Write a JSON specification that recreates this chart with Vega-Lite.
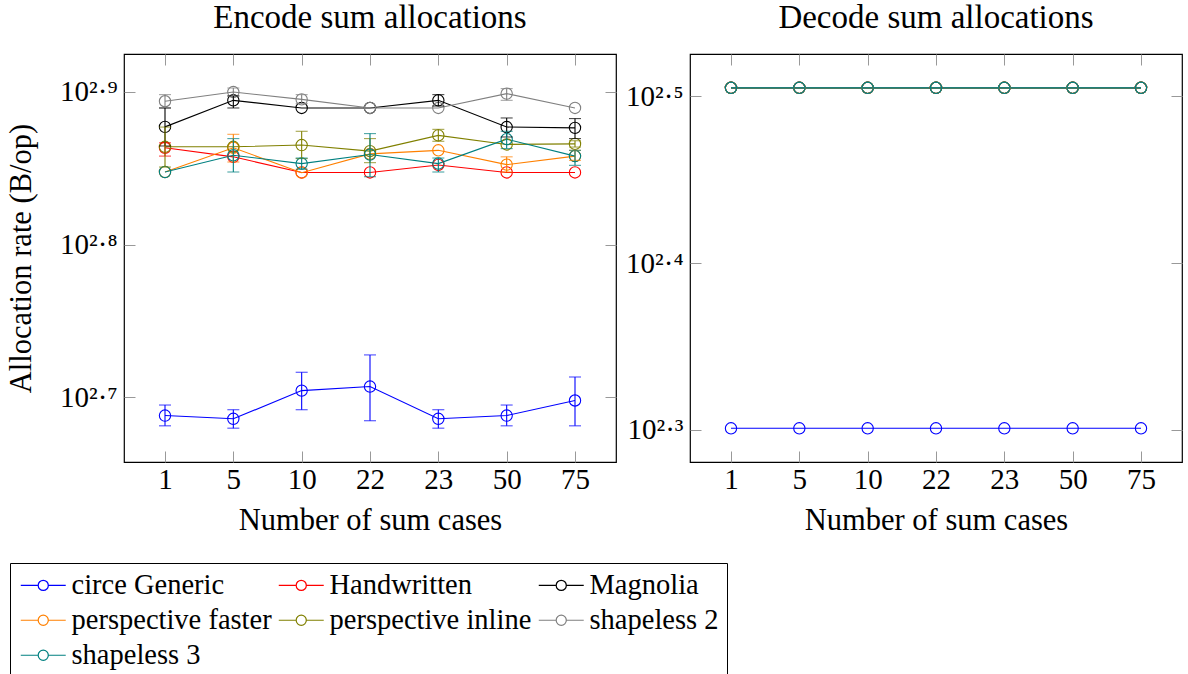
{
  "$schema": "https://vega.github.io/schema/vega-lite/v6.json",
  "padding": {"left": 5, "top": 0, "right": 4, "bottom": 0},
  "datasets": {
    "encode": [
      {"series": "circe Generic", "cases": 1, "value": 487.5, "lo": 480.0, "hi": 495.3},
      {"series": "circe Generic", "cases": 5, "value": 485.1, "lo": 478.3, "hi": 491.8},
      {"series": "circe Generic", "cases": 10, "value": 506.2, "lo": 491.8, "hi": 520.4},
      {"series": "circe Generic", "cases": 22, "value": 509.3, "lo": 483.7, "hi": 534.2},
      {"series": "circe Generic", "cases": 23, "value": 485.1, "lo": 478.3, "hi": 491.8},
      {"series": "circe Generic", "cases": 50, "value": 487.5, "lo": 480.0, "hi": 495.3},
      {"series": "circe Generic", "cases": 75, "value": 498.7, "lo": 480.0, "hi": 516.7},
      {"series": "Handwritten", "cases": 1, "value": 730.2, "lo": 721.1, "hi": 735.7},
      {"series": "Handwritten", "cases": 5, "value": 720.3, "lo": null, "hi": null},
      {"series": "Handwritten", "cases": 10, "value": 703.5, "lo": null, "hi": null},
      {"series": "Handwritten", "cases": 22, "value": 703.5, "lo": null, "hi": null},
      {"series": "Handwritten", "cases": 23, "value": 711.5, "lo": null, "hi": null},
      {"series": "Handwritten", "cases": 50, "value": 703.5, "lo": null, "hi": null},
      {"series": "Handwritten", "cases": 75, "value": 703.5, "lo": null, "hi": null},
      {"series": "Magnolia", "cases": 1, "value": 753.6, "lo": 732.2, "hi": 775.4},
      {"series": "Magnolia", "cases": 5, "value": 784.4, "lo": 775.4, "hi": 789.6},
      {"series": "Magnolia", "cases": 10, "value": 775.4, "lo": null, "hi": null},
      {"series": "Magnolia", "cases": 22, "value": 775.4, "lo": null, "hi": null},
      {"series": "Magnolia", "cases": 23, "value": 784.4, "lo": 777.7, "hi": 791.2},
      {"series": "Magnolia", "cases": 50, "value": 753.4, "lo": 742.2, "hi": 763.8},
      {"series": "Magnolia", "cases": 75, "value": 752.5, "lo": 740.4, "hi": 763.1},
      {"series": "perspective faster", "cases": 1, "value": 704.0, "lo": null, "hi": null},
      {"series": "perspective faster", "cases": 5, "value": 730.2, "lo": 714.7, "hi": 745.2},
      {"series": "perspective faster", "cases": 10, "value": 703.3, "lo": null, "hi": null},
      {"series": "perspective faster", "cases": 22, "value": 723.5, "lo": null, "hi": null},
      {"series": "perspective faster", "cases": 23, "value": 727.4, "lo": null, "hi": null},
      {"series": "perspective faster", "cases": 50, "value": 711.9, "lo": 704.0, "hi": 720.3},
      {"series": "perspective faster", "cases": 75, "value": 721.1, "lo": 716.5, "hi": 727.4},
      {"series": "perspective inline", "cases": 1, "value": 731.3, "lo": 709.3, "hi": 753.4},
      {"series": "perspective inline", "cases": 5, "value": 731.3, "lo": null, "hi": null},
      {"series": "perspective inline", "cases": 10, "value": 733.2, "lo": 718.4, "hi": 748.6},
      {"series": "perspective inline", "cases": 22, "value": 726.5, "lo": 714.0, "hi": 740.4},
      {"series": "perspective inline", "cases": 23, "value": 744.0, "lo": 737.4, "hi": 750.8},
      {"series": "perspective inline", "cases": 50, "value": 733.9, "lo": null, "hi": null},
      {"series": "perspective inline", "cases": 75, "value": 734.5, "lo": 731.0, "hi": 738.0},
      {"series": "shapeless 2", "cases": 1, "value": 783.3, "lo": 775.4, "hi": 791.2},
      {"series": "shapeless 2", "cases": 5, "value": 794.3, "lo": 789.6, "hi": 799.1},
      {"series": "shapeless 2", "cases": 10, "value": 785.5, "lo": 780.5, "hi": 791.2},
      {"series": "shapeless 2", "cases": 22, "value": 775.4, "lo": null, "hi": null},
      {"series": "shapeless 2", "cases": 23, "value": 775.4, "lo": null, "hi": null},
      {"series": "shapeless 2", "cases": 50, "value": 792.4, "lo": 784.4, "hi": 798.4},
      {"series": "shapeless 2", "cases": 75, "value": 775.4, "lo": null, "hi": null},
      {"series": "shapeless 3", "cases": 1, "value": 704.0, "lo": null, "hi": null},
      {"series": "shapeless 3", "cases": 5, "value": 722.0, "lo": 704.0, "hi": 740.4},
      {"series": "shapeless 3", "cases": 10, "value": 713.0, "lo": 706.9, "hi": 719.0},
      {"series": "shapeless 3", "cases": 22, "value": 722.8, "lo": 699.0, "hi": 746.0},
      {"series": "shapeless 3", "cases": 23, "value": 713.0, "lo": 704.0, "hi": 719.0},
      {"series": "shapeless 3", "cases": 50, "value": 739.8, "lo": 729.3, "hi": 748.6},
      {"series": "shapeless 3", "cases": 75, "value": 721.1, "lo": 711.1, "hi": 727.4}
    ],
    "decode": [
      {"series": "circe Generic", "cases": 1, "value": 200},
      {"series": "circe Generic", "cases": 5, "value": 200},
      {"series": "circe Generic", "cases": 10, "value": 200},
      {"series": "circe Generic", "cases": 22, "value": 200},
      {"series": "circe Generic", "cases": 23, "value": 200},
      {"series": "circe Generic", "cases": 50, "value": 200},
      {"series": "circe Generic", "cases": 75, "value": 200},
      {"series": "Handwritten", "cases": 1, "value": 320},
      {"series": "Handwritten", "cases": 5, "value": 320},
      {"series": "Handwritten", "cases": 10, "value": 320},
      {"series": "Handwritten", "cases": 22, "value": 320},
      {"series": "Handwritten", "cases": 23, "value": 320},
      {"series": "Handwritten", "cases": 50, "value": 320},
      {"series": "Handwritten", "cases": 75, "value": 320},
      {"series": "Magnolia", "cases": 1, "value": 320},
      {"series": "Magnolia", "cases": 5, "value": 320},
      {"series": "Magnolia", "cases": 10, "value": 320},
      {"series": "Magnolia", "cases": 22, "value": 320},
      {"series": "Magnolia", "cases": 23, "value": 320},
      {"series": "Magnolia", "cases": 50, "value": 320},
      {"series": "Magnolia", "cases": 75, "value": 320},
      {"series": "perspective faster", "cases": 1, "value": 320},
      {"series": "perspective faster", "cases": 5, "value": 320},
      {"series": "perspective faster", "cases": 10, "value": 320},
      {"series": "perspective faster", "cases": 22, "value": 320},
      {"series": "perspective faster", "cases": 23, "value": 320},
      {"series": "perspective faster", "cases": 50, "value": 320},
      {"series": "perspective faster", "cases": 75, "value": 320},
      {"series": "perspective inline", "cases": 1, "value": 320},
      {"series": "perspective inline", "cases": 5, "value": 320},
      {"series": "perspective inline", "cases": 10, "value": 320},
      {"series": "perspective inline", "cases": 22, "value": 320},
      {"series": "perspective inline", "cases": 23, "value": 320},
      {"series": "perspective inline", "cases": 50, "value": 320},
      {"series": "perspective inline", "cases": 75, "value": 320},
      {"series": "shapeless 2", "cases": 1, "value": 320},
      {"series": "shapeless 2", "cases": 5, "value": 320},
      {"series": "shapeless 2", "cases": 10, "value": 320},
      {"series": "shapeless 2", "cases": 22, "value": 320},
      {"series": "shapeless 2", "cases": 23, "value": 320},
      {"series": "shapeless 2", "cases": 50, "value": 320},
      {"series": "shapeless 2", "cases": 75, "value": 320},
      {"series": "shapeless 3", "cases": 1, "value": 320},
      {"series": "shapeless 3", "cases": 5, "value": 320},
      {"series": "shapeless 3", "cases": 10, "value": 320},
      {"series": "shapeless 3", "cases": 22, "value": 320},
      {"series": "shapeless 3", "cases": 23, "value": 320},
      {"series": "shapeless 3", "cases": 50, "value": 320},
      {"series": "shapeless 3", "cases": 75, "value": 320}
    ]
  },
  "config": {
    "font": "Liberation Serif",
    "view": {"stroke": "black", "strokeWidth": 1.2},
    "axis": {
      "labelFont": "Liberation Serif", "titleFont": "Liberation Serif",
      "labelFontSize": 29, "titleFontSize": 30.5, "labelColor": "black", "titleColor": "black",
      "titleFontWeight": "normal", "domain": false, "grid": false,
      "tickColor": "#999999", "tickSize": -11, "tickWidth": 1
    },
    "title": {"font": "Liberation Serif", "fontSize": 33, "fontWeight": "normal", "color": "black", "offset": 19}
  },
  "spacing": 6,
  "hconcat": [
    {
      "title": "Encode sum allocations",
      "width": 492, "height": 408,
      "data": {"name": "encode"},
      "layer": [
        {
          "mark": {"type": "line", "strokeWidth": 1.1},
          "encoding": {
            "x": {"field": "cases", "type": "ordinal", "scale": {"type": "point", "padding": 0.6},
                  "axis": {"title": "Number of sum cases", "labelAngle": 0, "labelPadding": 14, "titlePadding": 11}},
            "y": {"field": "value", "type": "quantitative",
                  "scale": {"type": "log", "domain": [454.5, 841.2], "nice": false},
                  "axis": {"title": "Allocation rate (B/op)", "values": [501.187, 630.957, 794.328], "labelPadding": 18, "titlePadding": 23,
                           "labelExpr": "datum.value < 560 ? '10²·⁷' : datum.value < 710 ? '10²·⁸' : '10²·⁹'"}},
            "color": {"field": "series", "type": "nominal",
                      "scale": {"domain": ["circe Generic", "Handwritten", "Magnolia", "perspective faster", "perspective inline", "shapeless 2", "shapeless 3"],
                                "range": ["#0000ff", "#ff0000", "#000000", "#ff8000", "#808000", "#808080", "#008080"]},
                      "legend": {"title": null, "orient": "none", "legendX": -114, "legendY": 509,
                                 "columns": 3, "direction": "horizontal",
                                 "labelFont": "Liberation Serif", "labelFontSize": 28.5, "labelColor": "black", "labelLimit": 400,
                                 "strokeColor": "black", "padding": 8,
                                 "symbolType": "M-2,0H-0.45M0.455,0A0.455,0.455,0,1,1,-0.455,0A0.455,0.455,0,1,1,0.455,0ZM0.445,0A0.445,0.445,0,1,0,-0.445,0A0.445,0.445,0,1,0,0.445,0ZM0.45,0H2",
                                 "symbolSize": 506, "symbolStrokeWidth": 1.1, "symbolOffset": 11,
                                 "labelOffset": 14, "columnPadding": 4, "rowPadding": 6}}
          }
        },
        {
          "mark": {"type": "point", "shape": "circle", "filled": false, "size": 128, "strokeWidth": 1.1, "opacity": 1},
          "encoding": {
            "x": {"field": "cases", "type": "ordinal", "scale": {"type": "point", "padding": 0.6},
                  "axis": {"orient": "top", "labels": false, "title": null}},
            "y": {"field": "value", "type": "quantitative",
                  "scale": {"type": "log", "domain": [454.5, 841.2], "nice": false},
                  "axis": {"orient": "right", "labels": false, "title": null, "values": [501.187, 630.957, 794.328]}},
            "color": {"field": "series", "type": "nominal", "legend": null}
          }
        },
        {
          "transform": [{"filter": "datum.lo != null"}],
          "mark": {"type": "errorbar", "ticks": {"size": 12, "thickness": 1.1}, "thickness": 1.1},
          "encoding": {
            "x": {"field": "cases", "type": "ordinal", "scale": {"type": "point", "padding": 0.6}, "axis": null},
            "y": {"field": "lo", "type": "quantitative", "scale": {"type": "log", "domain": [454.5, 841.2], "nice": false}, "axis": null},
            "y2": {"field": "hi"},
            "color": {"field": "series", "type": "nominal", "legend": null}
          }
        }
      ],
      "resolve": {"axis": {"x": "independent", "y": "independent"}}
    },
    {
      "title": "Decode sum allocations",
      "width": 492, "height": 408,
      "data": {"name": "decode"},
      "layer": [
        {
          "mark": {"type": "line", "strokeWidth": 1.1},
          "encoding": {
            "x": {"field": "cases", "type": "ordinal", "scale": {"type": "point", "padding": 0.6},
                  "axis": {"title": "Number of sum cases", "labelAngle": 0, "labelPadding": 14, "titlePadding": 11}},
            "y": {"field": "value", "type": "quantitative",
                  "scale": {"type": "log", "domain": [190.9, 335.3], "nice": false},
                  "axis": {"title": null, "values": [199.526, 251.189, 316.228], "labelPadding": 18,
                           "labelExpr": "datum.value < 225 ? '10²·³' : datum.value < 285 ? '10²·⁴' : '10²·⁵'"}},
            "color": {"field": "series", "type": "nominal", "legend": null}
          }
        },
        {
          "mark": {"type": "point", "shape": "circle", "filled": false, "size": 128, "strokeWidth": 1.1, "opacity": 1},
          "encoding": {
            "x": {"field": "cases", "type": "ordinal", "scale": {"type": "point", "padding": 0.6},
                  "axis": {"orient": "top", "labels": false, "title": null}},
            "y": {"field": "value", "type": "quantitative",
                  "scale": {"type": "log", "domain": [190.9, 335.3], "nice": false},
                  "axis": {"orient": "right", "labels": false, "title": null, "values": [199.526, 251.189, 316.228]}},
            "color": {"field": "series", "type": "nominal", "legend": null}
          }
        }
      ],
      "resolve": {"axis": {"x": "independent", "y": "independent"}}
    }
  ]
}
